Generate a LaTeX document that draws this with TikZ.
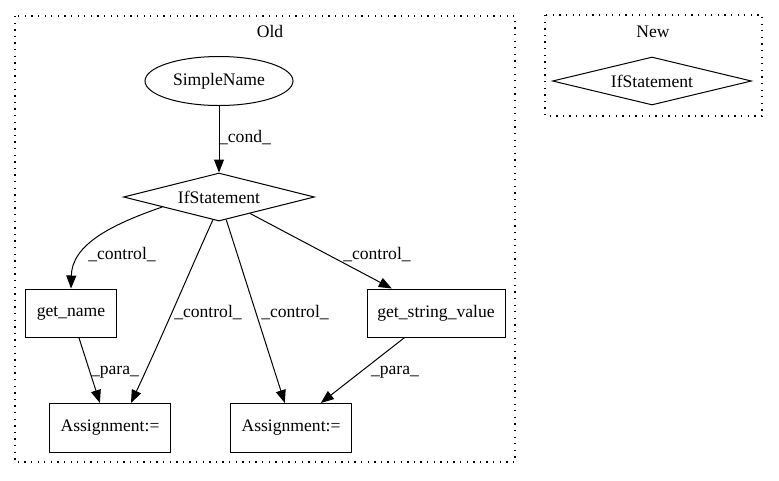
\documentclass[tikz,border=0pt]{standalone}
\usepackage{fontspec}
\setmainfont{Liberation Serif}
\usepackage{tikz}
\usetikzlibrary{arrows.meta,shapes.geometric}

\begin{document}
\begin{tikzpicture}[x=1pt,y=-1pt,
          every node/.style={font=\fontsize{17.6}{20}\selectfont},
          ar/.style={-{Triangle[length=13pt,width=10pt]},line width=1pt},
          box/.style={draw,line width=1pt,rectangle,inner sep=0pt,minimum height=48pt},
          cluster/.style={line width=1.2pt,dash pattern=on 1.3pt off 5.3pt}]
        \useasboundingbox (0,0) rectangle (779,480);
        % clusters
        \draw[cluster] (15,16) rectangle (515,462);
        \draw[cluster] (545,15) rectangle (762,116);
        \node (old) at (270,31) {Old};
        \node (new) at (653,32) {New};
        % Old
        \node[draw, line width=1pt, ellipse, inner sep=0pt,
          minimum width=148pt, minimum height=49pt]
        (simple) at (219,81) {SimpleName};
        \node[draw, line width=1pt, diamond, inner sep=0pt, shape aspect=4,
          minimum width=191pt, minimum height=48pt]
        (ifs) at (219,197) {IfStatement};
        \node[box, minimum width=91pt] (getname) at (71,313) {get\_name};
        \node[box, minimum width=138pt] (gsv) at (436,313) {get\_string\_value};
        \node[box, minimum width=121pt, minimum height=49pt] (asg1) at (110,428) {Assignment:=};
        \node[box, minimum width=121pt, minimum height=49pt] (asg2) at (291,428) {Assignment:=};
        % New
        \node[draw, line width=1pt, diamond, inner sep=0pt, shape aspect=4,
          minimum width=199pt, minimum height=48pt]
        (ifsnew) at (652,81) {IfStatement};
        % edges
        \draw[ar] (simple) -- (ifs);
        \draw[ar] (ifs.190) .. controls (110,225) and (72,245) .. (getname.north);
        \draw[ar] (ifs.-105) .. controls (188,275) and (165,330) .. (asg1.50);
        \draw[ar] (ifs) -- (asg2.104);
        \draw[ar] (ifs) -- (gsv.151);
        \draw[ar] (getname) -- (asg1.112);
        \draw[ar] (gsv) -- (asg2.40);
        % labels
        \node (lcond) at (245,138) {\_cond\_};
        \node (lc1) at (122,255) {\_control\_};
        \node (lc2) at (208,313) {\_control\_};
        \node (lc3) at (295,313) {\_control\_};
        \node (lc4) at (377,255) {\_control\_};
        \node (lp1) at (115,372) {\_para\_};
        \node (lp2) at (395,372) {\_para\_};
      \end{tikzpicture}
\end{document}
